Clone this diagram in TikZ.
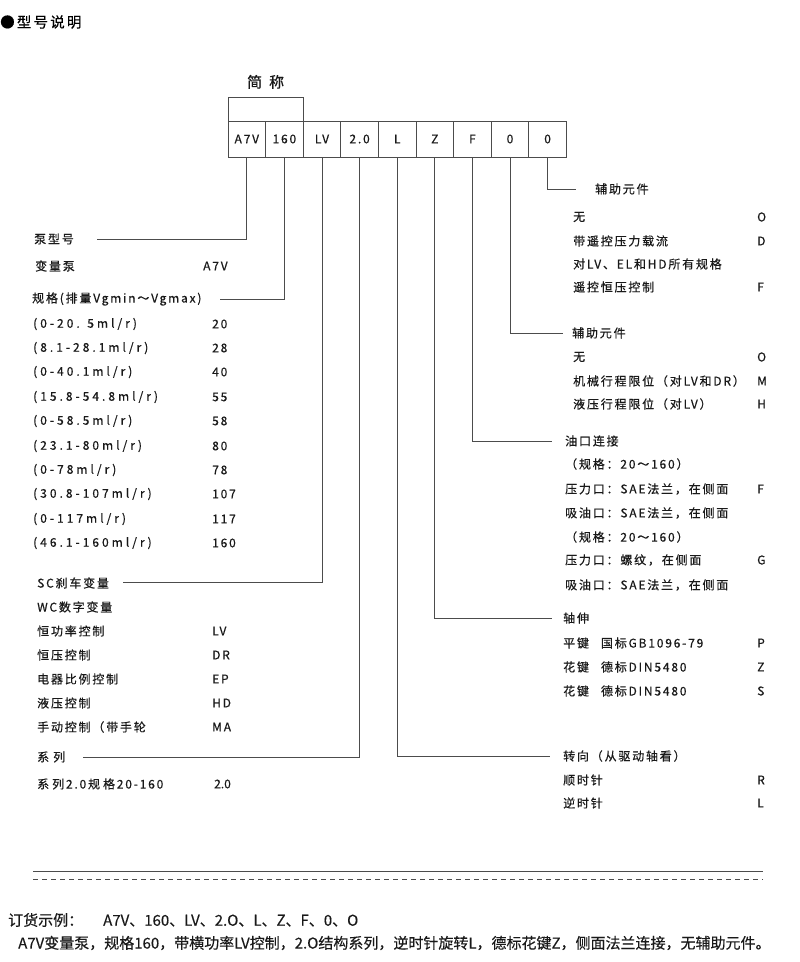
\documentclass[tikz,border=0pt]{standalone}
\usepackage{fontspec}
\setmainfont{Noto Sans CJK SC}[LetterSpace=15, FakeBold=0.5]
\newfontfamily\widefont{Noto Sans CJK SC}[LetterSpace=25, FakeBold=0.5]
\newfontfamily\plainfont{Noto Sans CJK SC}[FakeBold=0.3]
\usetikzlibrary{positioning}
\tikzset{
  code/.style={draw=black!70, line width=0.8pt, minimum width=37.6pt, minimum height=36pt,
    inner sep=0pt, outer sep=0pt, font=\fontsize{12}{14}\selectfont, text=black!90},
  item/.style={anchor=west, inner sep=0pt, font=\fontsize{12}{14}\selectfont, text=black!90},
  wide/.style={item, font=\widefont\fontsize{12}{14}\selectfont},
  lead/.style={draw=black!70, line width=0.8pt},
  order/.style={anchor=west, inner sep=0pt, font=\plainfont\fontsize{15}{17}\selectfont, text=black!90}
}

\begin{document}
\begin{tikzpicture}[x=1pt, y=-1pt]
  \useasboundingbox (0,0) rectangle (800,962);

  \node[anchor=west, inner sep=0pt, font=\fontsize{14.5}{16}\selectfont] (title) at (0,22) {●型号说明};

  % code boxes
  \node[code] (a7v) at (246.8,139) {A7V};
  \node[code, right=0pt of a7v] (b160) {160};
  \node[code, right=0pt of b160] (blv) {LV};
  \node[code, right=0pt of blv] (b20) {2.0};
  \node[code, right=0pt of b20] (bl) {L};
  \node[code, right=0pt of bl] (bz) {Z};
  \node[code, right=0pt of bz] (bf) {F};
  \node[code, right=0pt of bf] (bo1) {0};
  \node[code, right=0pt of bo1] (bo2) {0};
  \node[code, minimum width=75.2pt, minimum height=24pt, anchor=south west] (short) at (a7v.north west) {};
  \node[above=8pt of short, inner sep=0pt, font=\fontsize{15}{17}\selectfont, text=black!90] (shortlbl) {简\hspace{7pt}称};

  % left column
  \node[item] (pumptype) at (34,239) {泵型号};
  \node[item] (pump) at (35,266) {变量泵};
  \node[item] (pumpv) at (203,266) {A7V};
  \node[item] (size) at (32,299) {规格(排量Vgmin～Vgmax)};
  \node[wide] (d20) at (33,324) {(0-20. 5ml/r)};
  \node[item] (d20v) at (212,324) {20};
  \node[wide] (d28) at (33,348) {(8.1-28.1ml/r)};
  \node[item] (d28v) at (212,348) {28};
  \node[wide] (d40) at (33,372) {(0-40.1ml/r)};
  \node[item] (d40v) at (212,372) {40};
  \node[wide] (d55) at (33,397) {(15.8-54.8ml/r)};
  \node[item] (d55v) at (212,397) {55};
  \node[wide] (d58) at (33,421) {(0-58.5ml/r)};
  \node[item] (d58v) at (212,421) {58};
  \node[wide] (d80) at (33,446) {(23.1-80ml/r)};
  \node[item] (d80v) at (212,446) {80};
  \node[wide] (d78) at (33,470) {(0-78ml/r)};
  \node[item] (d78v) at (212,470) {78};
  \node[wide] (d107) at (33,494) {(30.8-107ml/r)};
  \node[item] (d107v) at (212,494) {107};
  \node[wide] (d117) at (33,519) {(0-117ml/r)};
  \node[item] (d117v) at (212,519) {117};
  \node[wide] (d160) at (33,543) {(46.1-160ml/r)};
  \node[item] (d160v) at (212,543) {160};
  \node[item] (brake) at (37,583) {SC刹车变量};
  \node[item] (digital) at (37,607) {WC数字变量};
  \node[item] (lv) at (37,631) {恒功率控制};
  \node[item] (lvv) at (212,631) {LV};
  \node[item] (dr) at (37,655) {恒压控制};
  \node[item] (drv) at (212,655) {DR};
  \node[item] (ep) at (37,679) {电器比例控制};
  \node[item] (epv) at (212,679) {EP};
  \node[item] (hd) at (37,703) {液压控制};
  \node[item] (hdv) at (212,703) {HD};
  \node[item] (ma) at (37,727) {手动控制（带手轮};
  \node[item] (mav) at (212,727) {MA};
  \node[item] (series) at (37,757) {系\hspace{4pt}列};
  \node[item] (seriesr) at (37,784) {系\hspace{3pt}列2.0规\hspace{3pt}格20-160};
  \node[order, font=\plainfont\fontsize{12}{14}\selectfont] (seriesv) at (214,784) {2.0};

  % right column
  \node[item] (aux1) at (595,189) {辅助元件};
  \node[item] (aux1o) at (573,217) {无};
  \node[item] (aux1ov) at (757,217) {O};
  \node[item] (aux1d) at (573,241) {带遥控压力载流};
  \node[item] (aux1dv) at (757,241) {D};
  \node[item] (aux1all) at (573,264) {对LV、EL和HD所有规格};
  \node[item] (aux1f) at (573,287) {遥控恒压控制};
  \node[item] (aux1fv) at (757,287) {F};
  \node[item] (aux2) at (572,333) {辅助元件};
  \node[item] (aux2o) at (573,357) {无};
  \node[item] (aux2ov) at (757,357) {O};
  \node[item] (aux2m) at (573,381) {机械行程限位（对LV和DR）};
  \node[item] (aux2mv) at (757,381) {M};
  \node[item] (aux2h) at (573,404) {液压行程限位（对LV）};
  \node[item] (aux2hv) at (757,404) {H};
  \node[item] (port) at (565,441) {油口连接};
  \node[item] (ports1) at (565,464) {（规格：20～160）};
  \node[item] (portf1) at (565,489) {压力口：SAE法兰，在侧面};
  \node[item] (portf1v) at (757,489) {F};
  \node[item] (portf2) at (565,513) {吸油口：SAE法兰，在侧面};
  \node[item] (ports2) at (565,537) {（规格：20～160）};
  \node[item] (portg1) at (565,560) {压力口：螺纹，在侧面};
  \node[item] (portg1v) at (757,560) {G};
  \node[item] (portg2) at (565,585) {吸油口：SAE法兰，在侧面};
  \node[item] (shaft) at (563,618) {轴伸};
  \node[item] (shaftp) at (563,643) {平键\hspace{12pt}国标GB1096-79};
  \node[item] (shaftpv) at (757,643) {P};
  \node[item] (shaftz) at (563,667) {花键\hspace{12pt}德标DIN5480};
  \node[item] (shaftzv) at (757,667) {Z};
  \node[item] (shafts) at (563,691) {花键\hspace{12pt}德标DIN5480};
  \node[item] (shaftsv) at (757,691) {S};
  \node[item] (rot) at (563,756) {转向（从驱动轴看）};
  \node[item] (rotr) at (563,780) {顺时针};
  \node[item] (rotrv) at (757,780) {R};
  \node[item] (rotl) at (563,803) {逆时针};
  \node[item] (rotlv) at (757,803) {L};

  % leader lines
  \coordinate (pumptype-tip) at (97,239);
  \coordinate (size-tip) at (220,299);
  \coordinate (brake-tip) at (123,582);
  \coordinate (series-tip) at (83,757);
  \draw[lead] (a7v.south) |- (pumptype-tip);
  \draw[lead] (b160.south) |- (size-tip);
  \draw[lead] (blv.south) |- (brake-tip);
  \draw[lead] (b20.south) |- (series-tip);
  \draw[lead] (bl.south) |- ([xshift=-13pt]rot.west);
  \draw[lead] (bz.south) |- ([xshift=-11pt]shaft.west);
  \draw[lead] (bf.south) |- ([xshift=-13pt]port.west);
  \draw[lead] (bo1.south) |- ([xshift=-9pt]aux2.west);
  \draw[lead] (bo2.south) |- ([xshift=-19pt]aux1.west);

  % order example
  \draw[lead] (33,871) -- (763,871);
  \draw[lead, dash pattern=on 5pt off 4pt] (33,879) -- (763,879);
  \node[order] (example) at (8,920) {订货示例：\hspace{20pt}A7V、160、LV、2.O、L、Z、F、0、O};
  \node[order] (examplet) at (18,943) {A7V变量泵，规格160，带横功率LV控制，2.O结构系列，逆时针旋转L，德标花键Z，侧面法兰连接，无辅助元件。};
\end{tikzpicture}
\end{document}
